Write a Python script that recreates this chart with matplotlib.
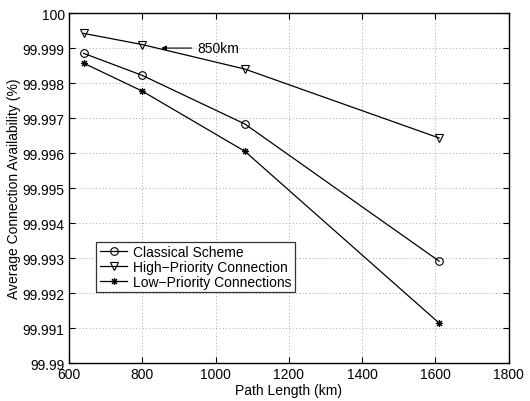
import matplotlib.pyplot as plt
from matplotlib.ticker import FixedLocator

plt.rcParams['font.family'] = ['Liberation Sans', 'DejaVu Sans']

path_km = [640, 800, 1080, 1610]
classical = [99.99885, 99.99822, 99.99683, 99.99291]
high_prio = [99.99942, 99.99910, 99.99840, 99.99643]
low_prio = [99.99857, 99.99777, 99.99605, 99.99114]

y_ticks = [99.99, 99.991, 99.992, 99.993, 99.994, 99.995, 99.996, 99.997, 99.998, 99.999, 100]
y_labels = ['99.99', '99.991', '99.992', '99.993', '99.994', '99.995', '99.996',
            '99.997', '99.998', '99.999', '100']
x_ticks = [600, 800, 1000, 1200, 1400, 1600, 1800]

fig = plt.figure(figsize=(5.3, 4.02), dpi=100)
ax = fig.add_axes([0.130, 0.0945, 0.830, 0.8705])

ax.plot(path_km, classical, 'k-', marker='o', mfc='none', ms=5.5, lw=0.9, mew=0.8,
        label='Classical Scheme')
ax.plot(path_km, high_prio, 'k-', marker='v', mfc='none', ms=6, lw=0.9, mew=0.8,
        label='High\u2212Priority Connection')
ax.plot(path_km, low_prio, 'k-', marker=(8, 2, 0), ms=5, lw=0.9, mew=0.8,
        label='Low\u2212Priority Connections')

ax.annotate('850km', xy=(852, 99.999), xytext=(950, 99.999), fontsize=10,
            va='center', ha='left',
            arrowprops=dict(arrowstyle='-|>', color='k', lw=0.8,
                            mutation_scale=7, shrinkA=2, shrinkB=0))

ax.set_xlim(600, 1800)
ax.set_ylim(99.99, 100)
ax.xaxis.set_major_locator(FixedLocator(x_ticks))
ax.set_yticks(y_ticks)
ax.set_yticklabels(y_labels)
ax.tick_params(direction='in', top=True, right=True, labelsize=10, length=4, pad=3)
ax.grid(True, linestyle=(0, (1, 3)), color='0.55', lw=0.6)
for s in ax.spines.values():
    s.set_linewidth(1.0)

ax.set_xlabel('Path Length (km)', fontsize=10, labelpad=1.5)
ax.set_ylabel('Average Connection Availability (%)', fontsize=10, labelpad=1)

leg = ax.legend(loc='lower left', bbox_to_anchor=(0.062, 0.203), fontsize=10,
                frameon=True, fancybox=False, edgecolor='k', borderpad=0.25,
                handlelength=2.0, handletextpad=0.4, labelspacing=0.05,
                borderaxespad=0)
leg.get_frame().set_linewidth(0.9)

fig.savefig('out.png', dpi=100)
